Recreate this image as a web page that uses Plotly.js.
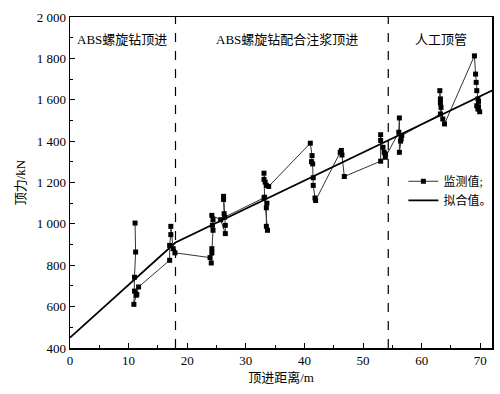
<!DOCTYPE html>
<html>
<head>
<meta charset="utf-8">
<script src="https://cdn.plot.ly/plotly-3.0.1.min.js"></script>
<style>html,body{margin:0;padding:0;background:#fff;}#chart{width:500px;height:394px;}</style>
</head>
<body>
<div id="chart"></div>
<script>
// Measured jacking force (监测值)
const measX = [11.1, 11.2, 11.0, 11.0, 10.9, 11.3, 11.4, 11.7,
  17.0, 17.0, 17.2, 17.2, 17.6, 17.9,
  23.9, 24.1, 24.2, 24.2, 24.4, 24.3, 24.4, 24.2,
  25.7, 26.5, 26.5, 26.2, 26.2, 26.3, 26.4,
  33.1, 33.6, 33.5, 33.5, 33.7, 33.2, 33.1, 33.1, 33.3, 33.5, 33.9,
  41.0, 41.3, 41.2, 41.4, 41.5, 41.5, 41.8, 41.9,
  46.1, 46.3, 46.4, 46.8,
  53.0, 53.0, 53.0, 53.4, 53.6, 53.8, 53.8,
  56.1, 56.2, 56.2, 56.4, 56.5, 56.6,
  63.2, 63.1, 63.2, 63.2, 63.3, 63.6, 63.9,
  69.0, 69.2, 69.3, 69.4, 69.6, 69.7, 69.4, 69.7, 69.6, 69.9];
const measY = [1004, 864, 742, 675, 611, 655, 659, 695,
  824, 896, 948, 988, 880, 860,
  837, 811, 859, 880, 969, 993, 1020, 1041,
  1020, 953, 993, 1133, 1118, 1049, 1033,
  1126, 1100, 1078, 988, 969, 1129, 1215, 1245, 1202, 1186, 1181,
  1390, 1330, 1301, 1290, 1223, 1186, 1125, 1113,
  1346, 1355, 1333, 1229,
  1303, 1431, 1403, 1370, 1346, 1338, 1322,
  1443, 1512, 1346, 1400, 1411, 1427,
  1531, 1644, 1604, 1584, 1563, 1507, 1483,
  1812, 1724, 1684, 1644, 1604, 1592, 1571, 1566, 1555, 1542];
// Fitted curve (拟合值)
const fitX = [0, 18, 72];
const fitY = [450, 910, 1645];
// Stage boundaries and labels
const stageBounds = [18, 54.3];
const stageLabelX = [8.9, 37, 63.3];
const stageLabels = ['ABS螺旋钻顶进', 'ABS螺旋钻配合注浆顶进', '人工顶管'];
// Tick labels
const yTickVals = [400, 600, 800, 1000, 1200, 1400, 1600, 1800, 2000];
const yTickText = ['400', '600', '800', '1 000', '1 200', '1 400', '1 600', '1 800', '2 000'];
const xTickVals = [0, 10, 20, 30, 40, 50, 60, 70];

const FONT = 'Liberation Serif, "Noto Sans CJK SC", serif';

const traces = [
  {x: measX, y: measY, type: 'scatter', mode: 'lines+markers', name: '监测值;',
   line: {color: '#333', width: 1}, marker: {symbol: 'square', size: 5, color: '#000'}},
  {x: fitX, y: fitY, type: 'scatter', mode: 'lines', name: '拟合值。',
   line: {color: '#000', width: 1.8}}
];

const shapes = stageBounds.map(b => ({type: 'line', xref: 'x', yref: 'paper', x0: b, x1: b, y0: 0, y1: 1,
  line: {color: '#000', width: 1.2, dash: 'dash'}}));

const annotations = stageLabels.map((t, i) => ({x: stageLabelX[i], y: 1890, xref: 'x', yref: 'y', text: t,
  showarrow: false, font: {family: FONT, size: 13, color: '#000'}}));

const axisCommon = {
  showgrid: false, zeroline: false, showline: true, linecolor: '#000', linewidth: 1.5, mirror: true,
  ticks: 'inside', ticklen: 5, tickwidth: 1, tickcolor: '#000',
  tickfont: {family: FONT, size: 13, color: '#000'}
};

const layout = {
  width: 500, height: 394,
  margin: {l: 70, r: 8, t: 17, b: 46, autoexpand: false},
  paper_bgcolor: '#fff', plot_bgcolor: '#fff',
  font: {family: FONT, color: '#000'},
  showlegend: true,
  legend: {x: 0.79, y: 0.475, xanchor: 'left', yanchor: 'middle', bgcolor: 'rgba(255,255,255,0)',
    font: {family: FONT, size: 12, color: '#000'}, itemwidth: 30, tracegroupgap: 0},
  xaxis: Object.assign({}, axisCommon, {range: [0, 72], tickvals: xTickVals,
    minor: {dtick: 5, ticks: 'inside', ticklen: 3, tickcolor: '#000'},
    title: {text: '顶进距离/m', font: {family: FONT, size: 13, color: '#000'}, standoff: 6}}),
  yaxis: Object.assign({}, axisCommon, {range: [400, 2000], tickvals: yTickVals, ticktext: yTickText,
    minor: {dtick: 100, ticks: 'inside', ticklen: 3, tickcolor: '#000'},
    title: {text: '顶力/kN', font: {family: FONT, size: 13, color: '#000'}, standoff: 8}}),
  shapes: shapes,
  annotations: annotations
};

Plotly.newPlot('chart', traces, layout, {displayModeBar: false, staticPlot: true});
</script>
</body>
</html>
